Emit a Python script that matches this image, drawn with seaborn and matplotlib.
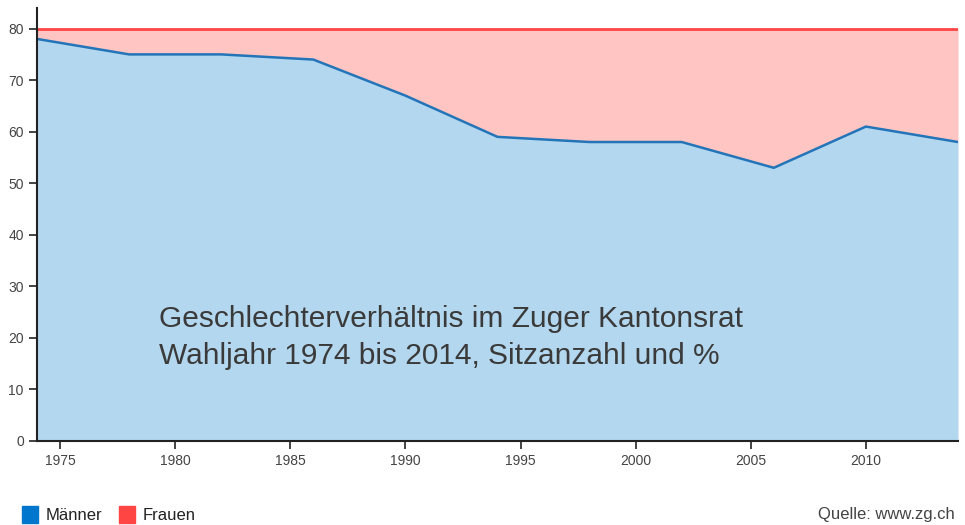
import matplotlib.pyplot as plt
import seaborn as sns
import pandas as pd

# Sitzverteilung Zuger Kantonsrat
years = [1974, 1978, 1982, 1986, 1990, 1994, 1998, 2002, 2006, 2010, 2014]
maenner = [78, 75, 75, 74, 67, 59, 58, 58, 53, 61, 58]
total = [80, 80, 80, 80, 80, 80, 80, 80, 80, 80, 80]
xticks = [1975, 1980, 1985, 1990, 1995, 2000, 2005, 2010]
yticks = [0, 10, 20, 30, 40, 50, 60, 70, 80]

df = pd.DataFrame({'Jahr': years, 'Maenner': maenner, 'Total': total})

sns.set_style("ticks")
plt.rcParams['font.family'] = ['Liberation Sans', 'DejaVu Sans']

fig = plt.figure(figsize=(9.65, 5.25), dpi=100)
ax = fig.add_axes([37 / 965, 1 - 441 / 525, 921 / 965, 433 / 525])

# Flaechen
ax.fill_between(df['Jahr'], df['Maenner'], df['Total'], color='#fec5c3', linewidth=0)
ax.fill_between(df['Jahr'], 0, df['Maenner'], color='#b3d7ee', linewidth=0)

# Linien
sns.lineplot(data=df, x='Jahr', y='Total', color='#ff4545', linewidth=2, ax=ax)
sns.lineplot(data=df, x='Jahr', y='Maenner', color='#2374b8', linewidth=1.8, ax=ax)

ax.set_xlim(1974, 2014)
ax.set_ylim(0, 84)
ax.set_xticks(xticks)
ax.set_yticks(yticks)
ax.set_xlabel('')
ax.set_ylabel('')
ax.tick_params(axis='both', direction='out', length=6, width=1.2, color='#222222',
               labelsize=10, labelcolor='#444444')
for side in ['left', 'bottom']:
    ax.spines[side].set_color('#222222')
    ax.spines[side].set_linewidth(1.5)
sns.despine(ax=ax)

ax.text(1979.3, 20.1, 'Geschlechterverhältnis im Zuger Kantonsrat\nWahljahr 1974 bis 2014, Sitzanzahl und %',
        fontsize=21.5, color='#3a3a3a', linespacing=1.4, va='center', ha='left')

# Legende unten
fig.patches.append(plt.Rectangle((22 / 965, 2 / 525), 16 / 965, 17 / 525, transform=fig.transFigure,
                                 color='#0077cc', figure=fig))
fig.text(46 / 965, 9 / 525, 'Männer', fontsize=12, color='#222222', va='center')
fig.patches.append(plt.Rectangle((119 / 965, 2 / 525), 16 / 965, 17 / 525, transform=fig.transFigure,
                                 color='#ff4444', figure=fig))
fig.text(143 / 965, 9 / 525, 'Frauen', fontsize=12, color='#222222', va='center')
fig.text(955 / 965, 11 / 525, 'Quelle: www.zg.ch', fontsize=12, color='#444444', va='center', ha='right')

plt.savefig('out.png', dpi=100)
